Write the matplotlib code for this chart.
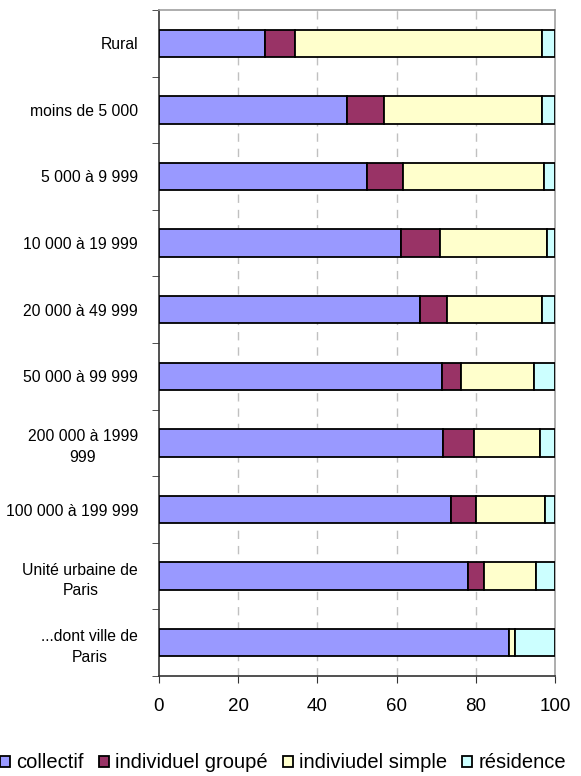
import numpy as np
import matplotlib.pyplot as plt

plt.rcParams['font.family'] = ['Liberation Sans', 'DejaVu Sans']

categories = ['Rural', 'moins de 5 000', '5 000 à 9 999', '10 000 à 19 999',
              '20 000 à 49 999', '50 000 à 99 999', '200 000 à 1999\n999',
              '100 000 à 199 999', 'Unité urbaine de\nParis', '...dont ville de\nParis']

collectif = [26.7, 47.5, 52.4, 61.0, 65.9, 71.4, 71.8, 73.7, 78.1, 88.3]
ind_groupe = [7.7, 9.3, 9.3, 9.9, 6.9, 4.8, 7.7, 6.4, 3.9, 0.2]
ind_simple = [62.2, 39.8, 35.4, 27.1, 23.8, 18.5, 16.6, 17.5, 13.1, 1.4]
residence = [3.4, 3.4, 2.9, 2.0, 3.4, 5.3, 3.9, 2.4, 4.9, 10.1]

series = [('collectif', collectif, '#9999FF'),
          ('individuel groupé', ind_groupe, '#993366'),
          ('indiviudel simple', ind_simple, '#FFFFCC'),
          ('résidence', residence, '#CCFFFF')]

fig = plt.figure(figsize=(5.81, 7.76), dpi=100)
ax = fig.add_axes([159/581, 1-676/776, 396/581, 666/776])

y = np.arange(len(categories))
left = np.zeros(len(categories))
for name, vals, col in series:
    vals = np.array(vals)
    ax.barh(y, vals, left=left, height=0.41, color=col, edgecolor='black',
            linewidth=1.3, label=name, zorder=3)
    left += vals

ax.set_xlim(0, 100)
ax.set_ylim(len(categories) - 0.5, -0.5)
ax.set_xticks([0, 20, 40, 60, 80, 100])
ax.tick_params(axis='x', labelsize=13.5, length=5, pad=11, color='#333333')
ax.set_yticks(y)
ax.set_yticklabels(categories, fontsize=11.3, multialignment='center', linespacing=1.45)
ax.tick_params(axis='y', which='major', length=0, pad=15)
ax.set_yticks(np.arange(len(categories) + 1) - 0.5, minor=True)
ax.tick_params(axis='y', which='minor', length=5, color='#333333')

for xv in [20, 40, 60, 80]:
    ax.axvline(xv, color='#C0C0C0', linestyle=(0, (6, 5)), linewidth=1, zorder=1)

ax.spines['left'].set_color('#333333')
ax.spines['bottom'].set_color('#333333')
ax.spines['top'].set_color('#A0A0A0')
ax.spines['right'].set_color('#A0A0A0')
for s in ax.spines.values():
    s.set_linewidth(1.2)

fig.legend(loc='center', bbox_to_anchor=(283/581, 1-763/776), ncol=4, frameon=False,
           fontsize=14.5, handlelength=0.5, handleheight=0.5, handletextpad=0.3,
           columnspacing=0.75, borderaxespad=0, borderpad=0)

fig.savefig('out.png', dpi=100)
